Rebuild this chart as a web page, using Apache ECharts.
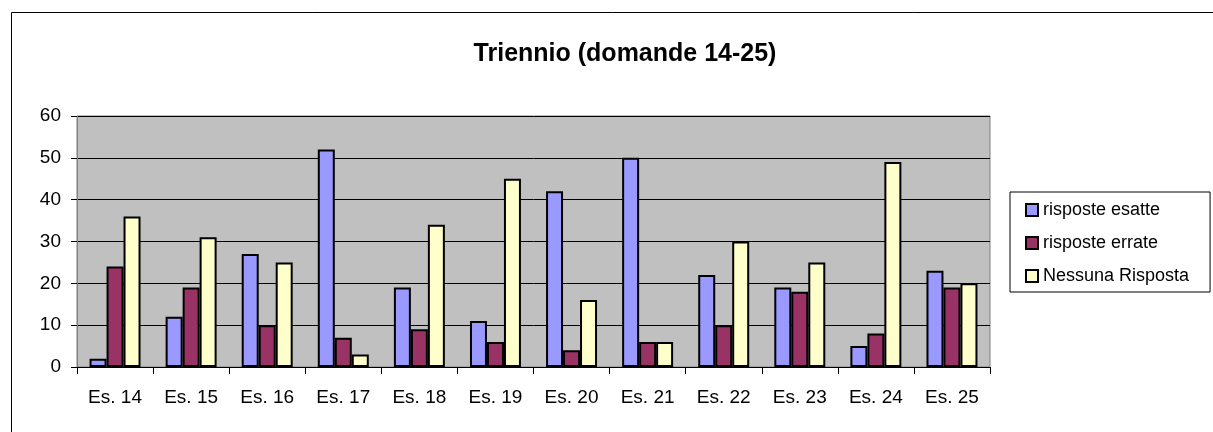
<!DOCTYPE html>
<html>
<head>
<meta charset="utf-8">
<script src="https://cdn.jsdelivr.net/npm/echarts@6/dist/echarts.min.js"></script>
<style>
  html, body { margin: 0; padding: 0; background: #fff; }
  #grafico { width: 1213px; height: 432px; }
</style>
</head>
<body>
<div id="grafico"></div>
<script>
// categorie (esercizi)
var categorie = ['Es. 14', 'Es. 15', 'Es. 16', 'Es. 17', 'Es. 18', 'Es. 19',
                 'Es. 20', 'Es. 21', 'Es. 22', 'Es. 23', 'Es. 24', 'Es. 25'];
var esatte   = [2, 12, 27, 52, 19, 11, 42, 50, 22, 19, 5, 23];
var errate   = [24, 19, 10, 7, 9, 6, 4, 6, 10, 18, 8, 19];
var nessuna  = [36, 31, 25, 3, 34, 45, 16, 6, 30, 25, 49, 20];
var nomiSerie = ['risposte esatte', 'risposte errate', 'Nessuna Risposta'];
var colori = ['#9999FF', '#993366', '#FFFFCC'];

var chart = echarts.init(document.getElementById('grafico'));

function serie(nome, dati, colore) {
  return {
    name: nome,
    type: 'bar',
    data: dati,
    barGap: '0%',
    barCategoryGap: '33%',
    itemStyle: { color: colore, borderColor: '#000', borderWidth: 2 }
  };
}

var option = {
  backgroundColor: '#fff',
  animation: false,
  textStyle: { fontFamily: 'Liberation Sans, Arial, sans-serif' },
  graphic: [{
    type: 'rect',
    shape: { x: 11.5, y: 12.5, width: 1210, height: 430 },
    style: { fill: 'none', stroke: '#000', lineWidth: 1 },
    silent: true
  }],
  title: {
    text: 'Triennio (domande 14-25)',
    left: 620,
    top: 37,
    textAlign: 'center',
    textStyle: { fontSize: 25, fontWeight: 'bold', color: '#000', fontFamily: 'Liberation Sans, Arial, sans-serif' }
  },
  legend: {
    orient: 'vertical',
    left: 1010,
    top: 192,
    padding: [8, 21, 6, 15],
    itemGap: 13,
    itemWidth: 12,
    itemHeight: 12,
    icon: 'rect',
    backgroundColor: '#fff',
    borderColor: '#000',
    borderWidth: 1,
    textStyle: { fontSize: 18, lineHeight: 20, color: '#000' },
    itemStyle: { borderColor: '#000', borderWidth: 2 },
    data: nomiSerie
  },
  grid: {
    left: 77,
    top: 116,
    width: 913,
    height: 251,
    show: true,
    backgroundColor: '#C0C0C0',
    borderColor: '#808080',
    borderWidth: 1
  },
  xAxis: {
    type: 'category',
    data: categorie,
    axisLine: { lineStyle: { color: '#000', width: 1 } },
    axisTick: { show: true, length: 7, lineStyle: { color: '#000' } },
    axisLabel: { fontSize: 19, color: '#000', margin: 21 }
  },
  yAxis: {
    type: 'value',
    min: 0,
    max: 60,
    interval: 10,
    axisLine: { show: true, lineStyle: { color: '#808080' } },
    axisTick: { show: true, length: 6, lineStyle: { color: '#000' } },
    axisLabel: { fontSize: 19, color: '#000', margin: 16 },
    splitLine: { lineStyle: { color: '#000', width: 1 } }
  },
  series: [
    serie(nomiSerie[0], esatte, colori[0]),
    serie(nomiSerie[1], errate, colori[1]),
    serie(nomiSerie[2], nessuna, colori[2])
  ]
};

chart.setOption(option);
</script>
</body>
</html>
